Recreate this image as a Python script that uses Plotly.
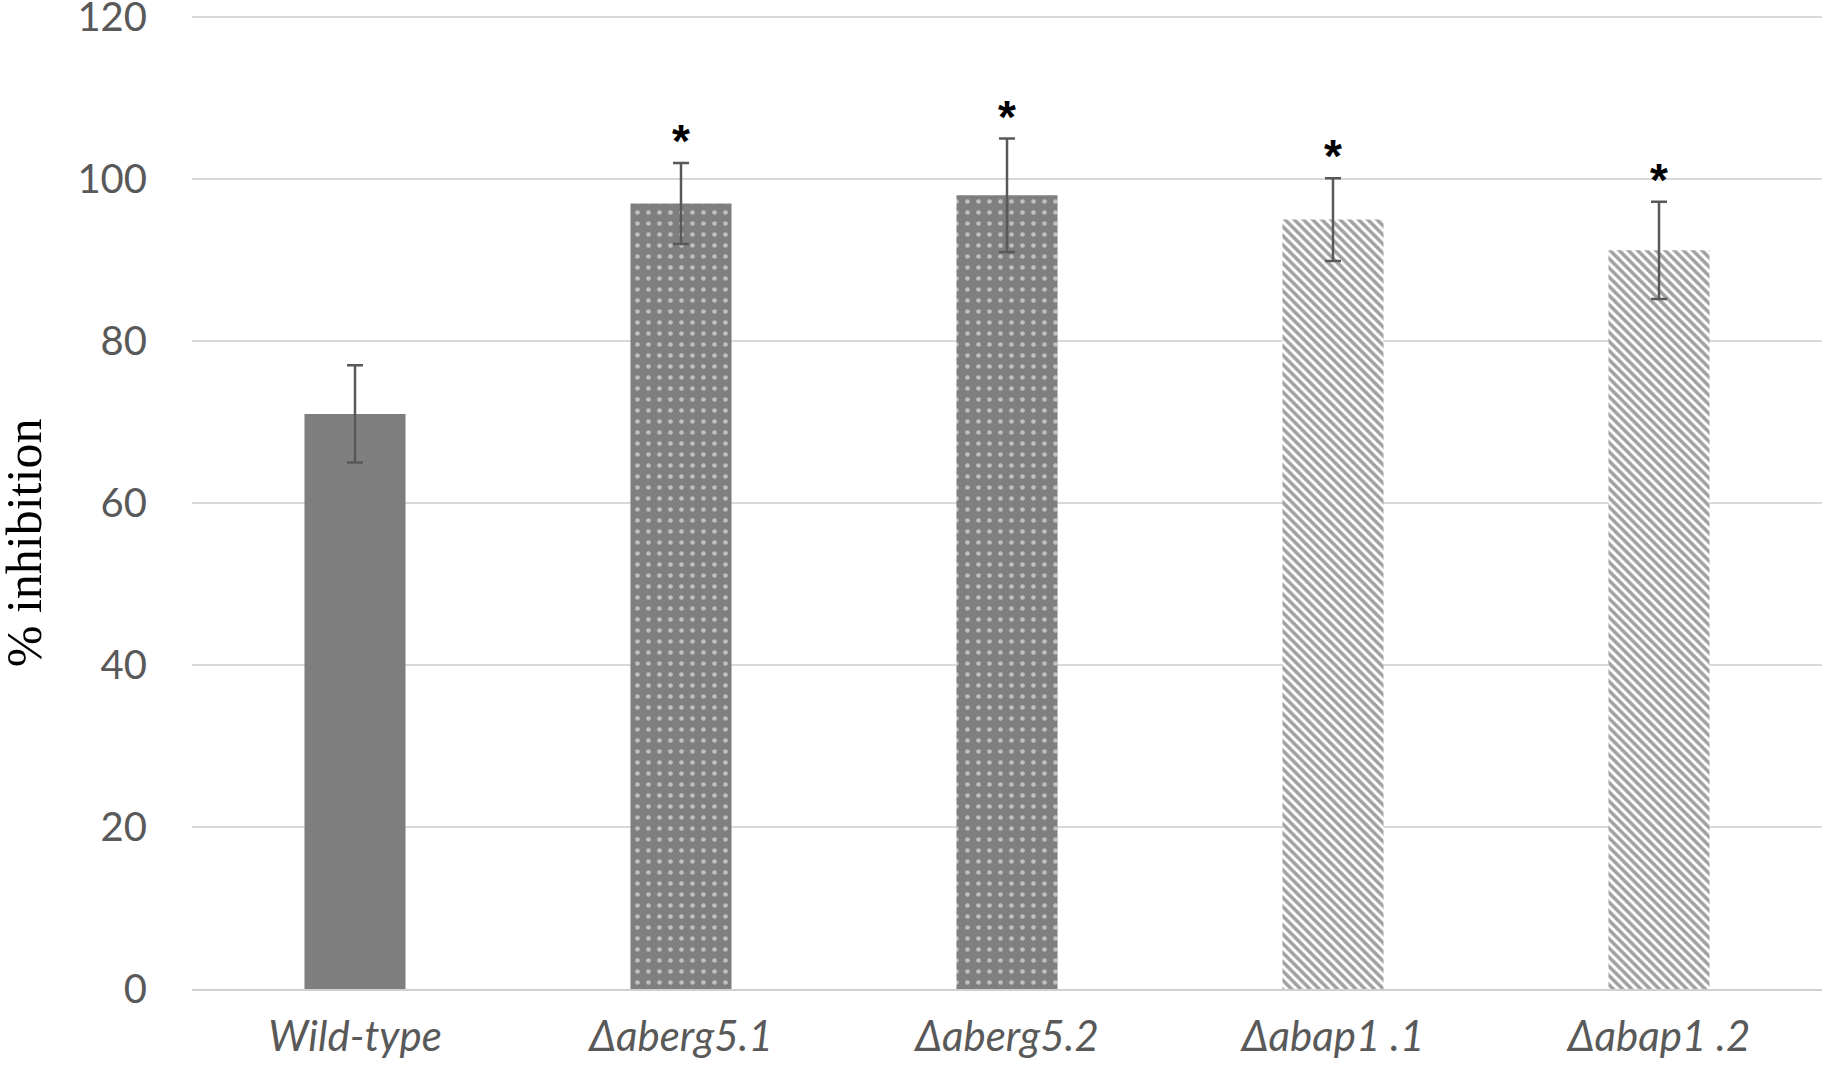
import plotly.graph_objects as go

# values
strains = ["<i>Wild-type</i>", "<i>Δaberg5.1</i>", "<i>Δaberg5.2</i>", "<i>Δabap1 .1</i>", "<i>Δabap1 .2</i>"]
inhibition = [71, 97, 98, 95, 91.2]
inhibition_err = [6, 5, 7, 5.1, 6]
significant = [False, True, True, True, True]

gray = "#7f7f7f"
stripe_gray = "#747474"
text_gray = "#595959"

fig = go.Figure()

fig.add_trace(go.Bar(
    x=strains, y=inhibition,
    error_y=dict(type="data", array=inhibition_err, color=text_gray, thickness=2.5, width=8),
    marker=dict(
        color=[gray, gray, gray, "white", "white"],
        line=dict(width=0),
        pattern=dict(
            shape=["", ".", ".", "\\", "\\"],
            bgcolor=[gray, gray, gray, "white", "white"],
            fgcolor=[gray, "white", "white", stripe_gray, stripe_gray],
            size=[10, 11, 11, 6.5, 6.5],
            solidity=[0.2, 0.14, 0.14, 0.55, 0.55],
        ),
    ),
    showlegend=False,
))

# significance stars above the error bars
for s, v, e, sig in zip(strains, inhibition, inhibition_err, significant):
    if sig:
        fig.add_annotation(x=s, y=v + e, text="<b>*</b>", showarrow=False,
                           yanchor="bottom", yshift=-6,
                           font=dict(family="Liberation Sans", size=46, color="black"))

# y axis title
fig.add_annotation(xref="paper", yref="paper", x=-0.103, y=0.455, text="% inhibition",
                   xanchor="center", yanchor="middle",
                   textangle=-90, showarrow=False,
                   font=dict(family="Liberation Serif", size=50, color="black"))

fig.update_layout(
    width=1824, height=1069,
    margin=dict(l=192, r=2, t=9, b=80, autoexpand=False),
    paper_bgcolor="white", plot_bgcolor="white",
    bargap=0.69,
    font=dict(family="Lato, Noto Sans", color=text_gray),
    xaxis=dict(showgrid=False, showline=True, linecolor="#d0d0d0", linewidth=2,
               automargin=False,
               tickfont=dict(size=42, color=text_gray), ticks="", ticklabelstandoff=10),
    yaxis=dict(range=[0, 121], tickvals=[0, 20, 40, 60, 80, 100, 120],
               showgrid=True, gridcolor="#d9d9d9", gridwidth=2,
               zeroline=False, showline=False, ticks="", automargin=False,
               ticklabeloverflow="allow",
               tickfont=dict(size=40, color=text_gray), ticklabelstandoff=44),
)

# drop the browser's default page margin so the figure sits at the window corner
fig.write_html("out.html", config={"displayModeBar": False},
               post_script="document.body.style.margin = '0';")
